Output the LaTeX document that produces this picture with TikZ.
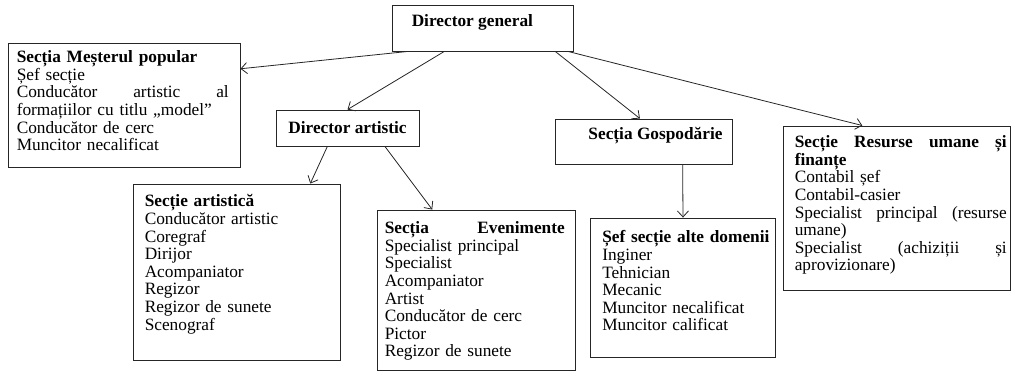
\documentclass[tikz,border=0pt]{standalone}
\usepackage{fontspec}
\setmainfont{Liberation Serif}
\usetikzlibrary{arrows.meta,calc}
\newcommand\jline[2]{\leavevmode\hbox to #1{#2}}
\begin{document}
\begin{tikzpicture}[x=1pt,y=-1pt,
  box/.style={draw=black!85, line width=0.9pt, inner sep=0pt},
  txt/.style={inner sep=0pt, anchor=north west, align=left,
    font=\fontsize{17.3}{17.6}\selectfont},
  conn/.style={draw=black!85, line width=0.8pt, -{Straight Barb[length=6pt,width=11pt]}}]
\useasboundingbox (0,0) rectangle (1014,374);
% boxes
\node[box, minimum width=181pt, minimum height=46pt] (dg) at (482.5,28) {};
\node[box, minimum width=232pt, minimum height=124pt] (mp) at (124,105) {};
\node[box, minimum width=143pt, minimum height=36pt] (da) at (347.5,128) {};
\node[box, minimum width=177pt, minimum height=45pt] (go) at (643.5,141.5) {};
\node[box, minimum width=227pt, minimum height=164pt] (ru) at (896.5,208) {};
\node[box, minimum width=207pt, minimum height=176pt] (sa) at (236.5,272) {};
\node[box, minimum width=198pt, minimum height=160pt] (ev) at (476,290) {};
\node[box, minimum width=185pt, minimum height=139pt] (ss) at (683,287.5) {};
% texts
\node[txt, anchor=west] (dgt) at ([xshift=20pt,yshift=6pt]dg.west) {\textbf{Director general}};
\node[txt, anchor=center] (dat) at (da.center) {\textbf{Director artistic}};
\node[txt, anchor=center] (got) at ([xshift=12pt,yshift=6pt]go.center) {\textbf{Secția Gospodărie}};
\node[txt, text width=212pt] (mpt) at ([xshift=9pt,yshift=-8pt]mp.north west) {%
\textbf{Secția Meșterul popular}\\
Șef secție\\
\jline{212pt}{Conducător\hfil artistic\hfil al}\\
formațiilor cu titlu „model”\\
Conducător de cerc\\
Muncitor necalificat};
\node[txt, text width=190pt] (sat) at ([xshift=12pt,yshift=-11pt]sa.north west) {%
\textbf{Secție artistică}\\
Conducător artistic\\
Coregraf\\
Dirijor\\
Acompaniator\\
Regizor\\
Regizor de sunete\\
Scenograf};
\node[txt, text width=180pt] (evt) at ([xshift=8pt,yshift=-12pt]ev.north west) {%
\jline{180pt}{\textbf{Secția}\hfil\textbf{Evenimente}}\\
Specialist principal\\
Specialist\\
Acompaniator\\
Artist\\
Conducător de cerc\\
Pictor\\
Regizor de sunete};
\node[txt, text width=170pt] (sst) at ([xshift=12pt,yshift=-13pt]ss.north west) {%
\textbf{Șef secție alte domenii}\\
Inginer\\
Tehnician\\
Mecanic\\
Muncitor necalificat\\
Muncitor calificat};
\node[txt, text width=212pt] (rut) at ([xshift=12pt,yshift=-10pt]ru.north west) {%
\jline{212pt}{\textbf{Secție}\hfil\textbf{Resurse}\hfil\textbf{umane}\hfil\textbf{și}}\\
\textbf{finanțe}\\
Contabil șef\\
Contabil-casier\\
\jline{212pt}{Specialist\hfil principal\hfil (resurse}\\
umane)\\
\jline{212pt}{Specialist\hfil (achiziții\hfil și}\\
aprovizionare)};
% connectors
\draw[conn] ($(dg.south west)!0.09!(dg.south east)$) -- ($(mp.north east)!0.21!(mp.south east)$);
\draw[conn] ($(dg.south west)!0.29!(dg.south east)$) -- (da.north);
\draw[conn] ($(dg.south west)!0.90!(dg.south east)$) -- ($(go.north west)!0.48!(go.north east)$);
\draw[conn] ($(dg.south west)!0.97!(dg.south east)$) -- ($(ru.north west)!0.35!(ru.north east)$);
\draw[conn] ($(da.south west)!0.36!(da.south east)$) -- ($(sa.north west)!0.855!(sa.north east)$);
\draw[conn] ($(da.south west)!0.76!(da.south east)$) -- ($(ev.north west)!0.28!(ev.north east)$);
\draw[conn] ($(go.south west)!0.72!(go.south east)$) -- (ss.north);
\end{tikzpicture}
\end{document}
